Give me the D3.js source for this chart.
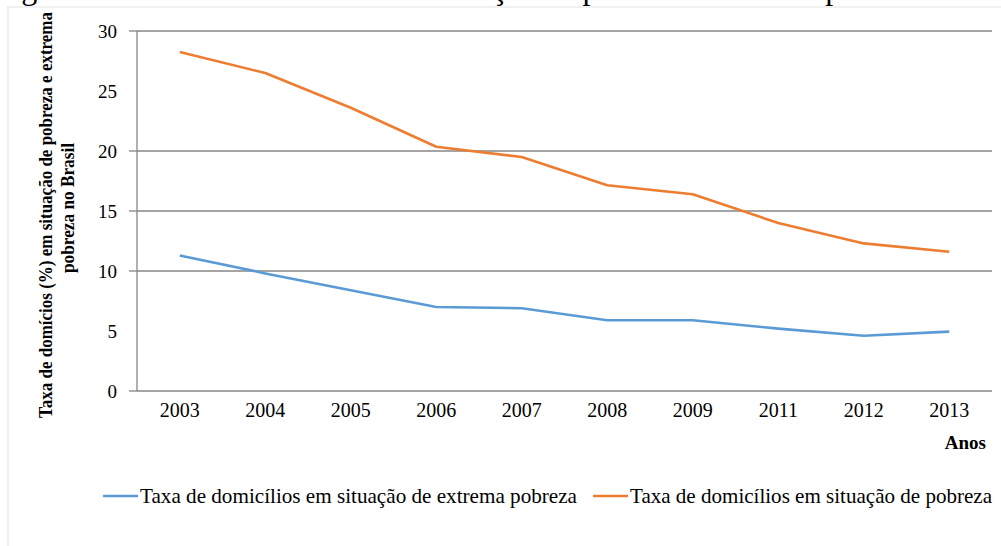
<!DOCTYPE html>
<html>
<head>
  <meta charset="UTF-8">
  <title>pobreza-brasil</title>
  <style type="text/css">
    body { margin: 0; background: #fff; }
    text { font-family: "Liberation Serif", "Times New Roman", serif; fill: #000; }
    .grid line { stroke: #868686; stroke-width: 1.3px; }
    .serie { fill: none; stroke-width: 2.6px; stroke-linejoin: round; }
  </style>
</head>
<body>
  <div class="svg-zone"></div>
  <script src="https://cdn.jsdelivr.net/npm/d3@7/dist/d3.min.js"></script>
  <script type="text/javascript">
    var anos = ["2003", "2004", "2005", "2006", "2007", "2008", "2009", "2011", "2012", "2013"];
    var extremaPobreza = [11.3, 9.8, 8.4, 7.0, 6.9, 5.9, 5.9, 5.2, 4.6, 4.95];
    var pobreza = [28.25, 26.5, 23.6, 20.35, 19.5, 17.15, 16.4, 14.0, 12.3, 11.6];
    var yTicks = [0, 5, 10, 15, 20, 25, 30];
    var gridValues = [10, 15, 20, 30];   // the 5 and 25 lines are missing in the original
    var tickMarks = [0, 10, 15, 20, 30];

    var series = [
      { nome: "Taxa de domicílios em situação de extrema pobreza", valores: extremaPobreza, cor: "#5b9bd5" },
      { nome: "Taxa de domicílios em situação de pobreza", valores: pobreza, cor: "#ed7d31" }
    ];

    var width = 1001,
      height = 546,
      mLeft = 137, mRight = 992, mTop = 31, mBottom = 391;

    var x = d3.scaleBand().domain(anos).range([mLeft, mRight]);
    var y = d3.scaleLinear().domain([0, 30]).range([mBottom, mTop]);

    var svg = d3.select(".svg-zone").append("svg")
      .attr("width", width)
      .attr("height", height);

    // cut off caption line at the top of the page
    var caption = svg.append("text")
      .attr("x", 0)
      .attr("y", -1.5)
      .style("font-size", "32px")
      .text("Figura 3 – Taxa de domicílios em situação de pobreza e extrema pobreza no Brasil");
    var cIdx = caption.text().indexOf("ç");
    var cPos = caption.node().getStartPositionOfChar(cIdx);
    caption.attr("x", 492 - cPos.x);

    // frame lines of the scanned page
    svg.append("line")
      .attr("x1", 7).attr("x2", width).attr("y1", 7).attr("y2", 7)
      .style("stroke", "#e3e3e3");
    svg.append("line")
      .attr("x1", 8).attr("x2", 8).attr("y1", 7).attr("y2", height)
      .style("stroke", "#e3e3e3");

    // grid
    svg.append("g").attr("class", "grid")
      .selectAll("line")
      .data(gridValues)
      .enter().append("line")
      .attr("x1", mLeft).attr("x2", mRight)
      .attr("y1", function (d) { return y(d); })
      .attr("y2", function (d) { return y(d); });

    // y axis
    var yAxis = svg.append("g")
      .attr("transform", "translate(" + mLeft + ",0)")
      .call(d3.axisLeft(y).tickValues(yTicks).tickSize(0).tickPadding(20));
    yAxis.select(".domain").remove();
    yAxis.selectAll("text")
      .style("font-size", "19px")
      .style("font-family", "Liberation Serif")
      .attr("fill", "#111");

    svg.append("line")
      .attr("x1", mLeft).attr("x2", mLeft).attr("y1", y(30)).attr("y2", y(0))
      .style("stroke", "#868686").style("stroke-width", 1.3);
    svg.selectAll(".ymark")
      .data(tickMarks)
      .enter().append("line")
      .attr("class", "ymark")
      .attr("x1", mLeft - 8).attr("x2", mLeft)
      .attr("y1", function (d) { return y(d); })
      .attr("y2", function (d) { return y(d); })
      .style("stroke", "#868686").style("stroke-width", 1.3);

    // x axis
    var xAxis = svg.append("g")
      .attr("transform", "translate(0," + mBottom + ")")
      .call(d3.axisBottom(x).tickSize(0).tickPadding(12));
    xAxis.select(".domain").remove();
    xAxis.selectAll("text")
      .style("font-size", "20px")
      .style("font-family", "Liberation Serif")
      .attr("fill", "#111");
    svg.append("line")
      .attr("x1", mLeft).attr("x2", mRight).attr("y1", mBottom).attr("y2", mBottom)
      .style("stroke", "#868686").style("stroke-width", 1.3);

    // axis titles
    svg.append("text")
      .attr("transform", "translate(52,215) rotate(-90)")
      .attr("text-anchor", "middle")
      .attr("textLength", 406)
      .attr("lengthAdjust", "spacingAndGlyphs")
      .style("font-size", "18.5px")
      .style("font-weight", "bold")
      .text("Taxa de domícios (%) em situação de pobreza e extrema");
    svg.append("text")
      .attr("transform", "translate(74,208) rotate(-90)")
      .attr("text-anchor", "middle")
      .attr("textLength", 130)
      .attr("lengthAdjust", "spacingAndGlyphs")
      .style("font-size", "18.5px")
      .style("font-weight", "bold")
      .text("pobreza no Brasil");

    svg.append("text")
      .attr("x", 986)
      .attr("y", 449)
      .attr("text-anchor", "end")
      .style("font-size", "19px")
      .style("font-weight", "bold")
      .text("Anos");

    // lines
    var line = d3.line()
      .x(function (d, i) { return x(anos[i]) + x.bandwidth() / 2; })
      .y(function (d) { return y(d); });

    svg.selectAll(".serie")
      .data(series)
      .enter().append("path")
      .attr("class", "serie")
      .attr("d", function (d) { return line(d.valores); })
      .style("stroke", function (d) { return d.cor; });

    // legend
    var legendX = [103, 593];
    var legendW = [437, 362];
    var legend = svg.selectAll(".legenda")
      .data(series)
      .enter().append("g")
      .attr("class", "legenda")
      .attr("transform", function (d, i) { return "translate(" + legendX[i] + ",496)"; });
    legend.append("line")
      .attr("x1", 0).attr("x2", 35)
      .style("stroke", function (d) { return d.cor; })
      .style("stroke-width", 2.6);
    legend.append("text")
      .attr("x", 37)
      .attr("y", 7)
      .attr("textLength", function (d, i) { return legendW[i]; })
      .attr("lengthAdjust", "spacingAndGlyphs")
      .style("font-size", "21px")
      .text(function (d) { return d.nome; });
  </script>
</body>
</html>
